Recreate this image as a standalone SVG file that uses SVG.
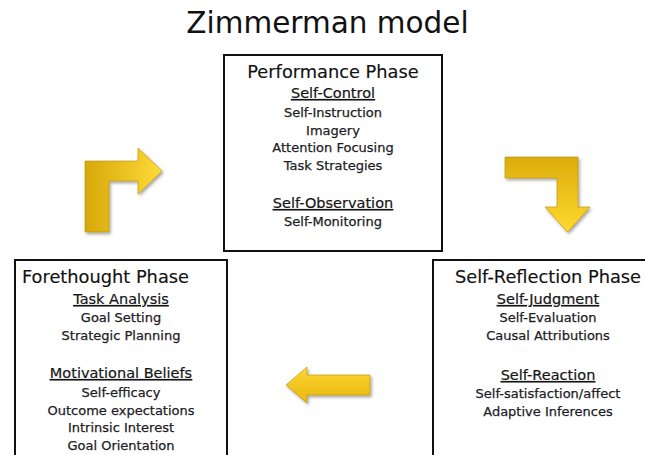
<svg xmlns="http://www.w3.org/2000/svg" width="645" height="455" viewBox="0 0 645 455">
  <defs>
    <style>
      text { font-family: "DejaVu Sans", Verdana, sans-serif; fill: #1e1e1e; }
      .title { font-size: 29.5px; text-anchor: middle; fill: #111; }
      .phase { font-size: 17.8px; fill: #111; stroke: #111; stroke-width: 0.15; }
      .sub { font-size: 14.5px; text-anchor: middle; text-decoration: underline; fill: #151515; stroke: #151515; stroke-width: 0.2; }
      .item { font-size: 13px; text-anchor: middle; fill: #1c1c24; stroke: #1c1c24; stroke-width: 0.25; }
      .box { fill: #ffffff; stroke: #111; stroke-width: 2; }
      .arrow { stroke: #b88d00; stroke-width: 0.6; filter: url(#shadow); }
    </style>
    <linearGradient id="gradRight" x1="0" y1="0" x2="1" y2="0">
      <stop offset="0" stop-color="#d6a80a"/>
      <stop offset="1" stop-color="#ffdb38"/>
    </linearGradient>
    <linearGradient id="gradDown" x1="0" y1="0" x2="0" y2="1">
      <stop offset="0" stop-color="#dcac0c"/>
      <stop offset="1" stop-color="#ffd92e"/>
    </linearGradient>
    <linearGradient id="gradLeft" x1="0" y1="0" x2="0" y2="1">
      <stop offset="0" stop-color="#ffd633"/>
      <stop offset="1" stop-color="#e8b70e"/>
    </linearGradient>
    <filter id="shadow" x="-20%" y="-20%" width="150%" height="150%">
      <feDropShadow dx="1.5" dy="2" stdDeviation="1.5" flood-color="#000" flood-opacity="0.35"/>
    </filter>
  </defs>

  <text class="title" x="327.5" y="33">Zimmerman model</text>

  <!-- cycle arrows -->
  <g id="connectors">
    <path class="arrow" fill="url(#gradRight)" d="M85,232 L85,161 L138,161 L138,148 L162,171 L138,194 L138,181 L109,181 L109,232 Z"/>
    <path class="arrow" fill="url(#gradDown)" d="M505,157 L578,157 L578,207 L590,207 L567.5,232 L545,207 L557,207 L557,178 L505,178 Z"/>
    <path class="arrow" fill="url(#gradLeft)" d="M370,375 L307,375 L307,367 L286,385 L307,403 L307,395 L370,395 Z"/>
  </g>

  <g id="performance">
    <rect class="box" x="224" y="55" width="218" height="196"/>
    <text class="phase" x="333" y="78" text-anchor="middle">Performance Phase</text>
    <text class="sub" x="333" y="98">Self-Control</text>
    <text class="item" x="333" y="117">Self-Instruction</text>
    <text class="item" x="333" y="134.5">Imagery</text>
    <text class="item" x="333" y="152">Attention Focusing</text>
    <text class="item" x="333" y="170">Task Strategies</text>
    <text class="sub" x="333" y="208">Self-Observation</text>
    <text class="item" x="333" y="226">Self-Monitoring</text>
  </g>

  <g id="forethought">
    <rect class="box" x="15" y="260" width="212" height="210"/>
    <text class="phase" x="22" y="283">Forethought Phase</text>
    <text class="sub" x="121" y="304">Task Analysis</text>
    <text class="item" x="121" y="322">Goal Setting</text>
    <text class="item" x="121" y="340">Strategic Planning</text>
    <text class="sub" x="121" y="378">Motivational Beliefs</text>
    <text class="item" x="121" y="396.5">Self-efficacy</text>
    <text class="item" x="121" y="414.5">Outcome expectations</text>
    <text class="item" x="121" y="432">Intrinsic Interest</text>
    <text class="item" x="121" y="450">Goal Orientation</text>
  </g>

  <g id="self-reflection">
    <rect class="box" x="433" y="260" width="220" height="210"/>
    <text class="phase" x="548" y="283" text-anchor="middle">Self-Reflection Phase</text>
    <text class="sub" x="548" y="304">Self-Judgment</text>
    <text class="item" x="548" y="322">Self-Evaluation</text>
    <text class="item" x="548" y="340">Causal Attributions</text>
    <text class="sub" x="548" y="380">Self-Reaction</text>
    <text class="item" x="548" y="398">Self-satisfaction/affect</text>
    <text class="item" x="548" y="415.5">Adaptive Inferences</text>
  </g>
</svg>
